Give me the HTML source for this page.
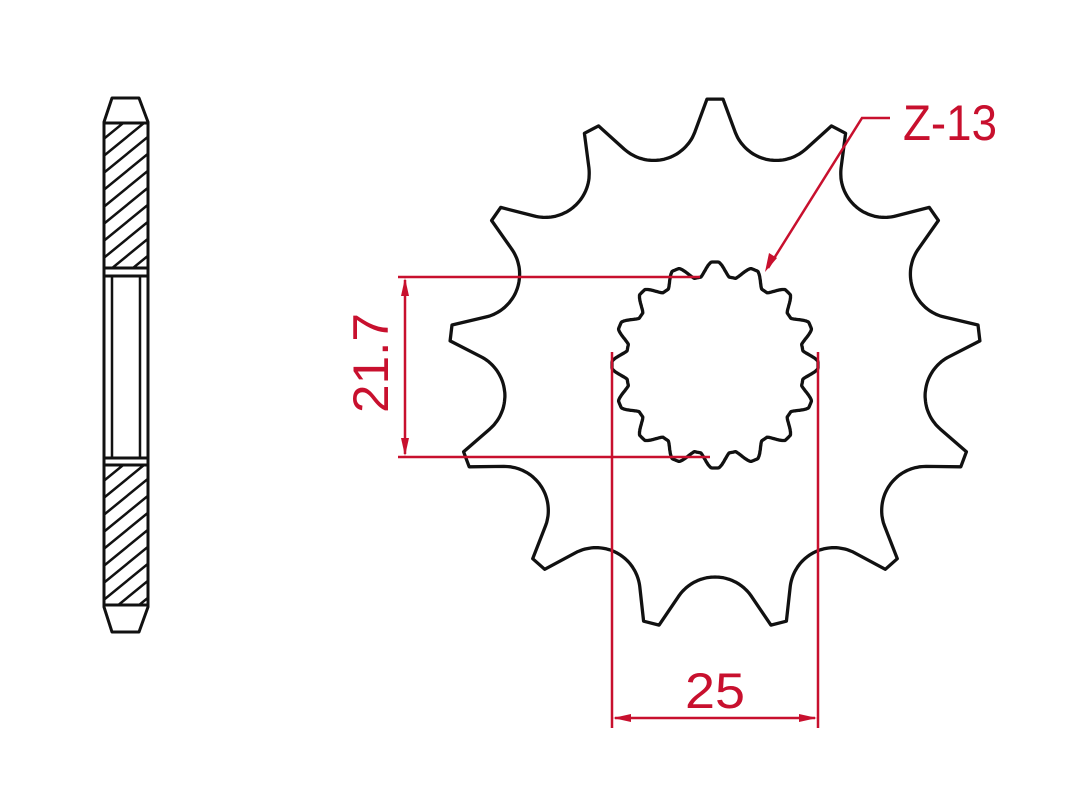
<!DOCTYPE html>
<html><head><meta charset="utf-8"><style>
html,body{margin:0;padding:0;background:#fff;}
svg{display:block;}
</style></head><body>
<svg id="s" width="1073" height="800" viewBox="0 0 1073 800" xmlns="http://www.w3.org/2000/svg">
<defs>
<clipPath id="c1"><rect x="105" y="123" width="43" height="145"/></clipPath>
<clipPath id="c2"><rect x="105" y="465" width="43" height="140"/></clipPath>
</defs>
<g fill="none" stroke="#111" stroke-width="3" stroke-linejoin="round">
<path d="M112,98 L139,98 L148,122 L148,607 L139,632 L112,632 L104,607 L104,122 Z"/>
<line x1="104" y1="123" x2="148" y2="123"/>
<line x1="104" y1="268" x2="148" y2="268"/>
<line x1="104" y1="276" x2="148" y2="276"/>
<line x1="104" y1="458" x2="148" y2="458"/>
<line x1="104" y1="465" x2="148" y2="465"/>
<line x1="104" y1="605" x2="148" y2="605"/>
<rect x="112" y="276" width="28" height="182" stroke-width="2.5"/>
<g clip-path="url(#c1)" stroke-width="2.5" id="h1"></g>
<g clip-path="url(#c2)" stroke-width="2.5" id="h2"></g>
<path id="sp" d="" stroke-width="3.3"/>
<path id="spl" d="" stroke-width="3.3"/>
</g>
<g stroke="#c8102e" stroke-width="2.5" fill="none">
<line x1="398" y1="277" x2="700" y2="277"/>
<line x1="398" y1="457" x2="710" y2="457"/>
<line x1="405" y1="280" x2="405" y2="454"/>
<line x1="612" y1="352" x2="612" y2="728"/>
<line x1="818" y1="352" x2="818" y2="728"/>
<line x1="615" y1="718" x2="815" y2="718"/>
<polyline points="890,118 862,118 768,268"/>
</g>
<g fill="#c8102e">
<polygon points="405,278 401,296 409,296"/>
<polygon points="405,456 401,438 409,438"/>
<polygon points="613,718 631,714 631,722"/>
<polygon points="817,718 799,714 799,722"/>
<polygon points="765,272 769,253 777,258"/>
</g>
<g fill="#c8102e" font-family="'Liberation Sans',sans-serif" font-size="50">
<text x="903" y="140" textLength="94" lengthAdjust="spacingAndGlyphs">Z-13</text>
<text x="685" y="708" textLength="60" lengthAdjust="spacingAndGlyphs">25</text>
<text transform="translate(388,413) rotate(-90)" x="0" y="0" textLength="100" lengthAdjust="spacingAndGlyphs">21.7</text>
</g>
</svg>
<script>
(function(){
var cx=715,cy=365;
function hatch(id,y0,y1){var g=document.getElementById(id),s='';
for(var y=y0-60;y<y1+60;y+=17){s+='<line x1="100" y1="'+(y+45)+'" x2="155" y2="'+y+'"/>';}
g.innerHTML=s;}
hatch('h1',123,268);hatch('h2',465,605);
var N=13,p=2*Math.PI/N,Rt=266,hw=8/266,rho=44,Rc=212+44,pts=[];
function P(r,a){return [cx+r*Math.cos(a),cy+r*Math.sin(a)];}
var dA=p/2-hw;
var tx=-Rt*Math.sin(dA), ty=Rt*Math.cos(dA)-Rc;
var d=Math.sqrt(tx*tx+ty*ty), phT=Math.atan2(ty,tx), al=Math.acos(rho/d);
var b1=phT+al, b2=3*Math.PI-b1;
for(var k=0;k<N;k++){
 var a0=-Math.PI/2+k*p;
 pts.push(P(Rt,a0-hw));pts.push(P(Rt,a0+hw));
 var av=a0+p/2,C=P(Rc,av);
 var u=[Math.cos(av),Math.sin(av)],t=[-Math.sin(av),Math.cos(av)];
 for(var i=0;i<=40;i++){
  var b=b1+(b2-b1)*i/40;
  var lx=Math.cos(b),ly=Math.sin(b);
  pts.push([C[0]+rho*(lx*t[0]+ly*u[0]),C[1]+rho*(lx*t[1]+ly*u[1])]);
 }
}
document.getElementById('sp').setAttribute('d','M'+pts.map(function(q){return q[0].toFixed(1)+','+q[1].toFixed(1)}).join(' L')+' Z');
var q=[];
for(var i=0;i<=960;i++){var a=i/960*2*Math.PI-Math.PI/2;
 var c=Math.cos(16*(a+Math.PI/2));
 var v=Math.max(-1,Math.min(1,1.2*c));
 var r=96+7*v;q.push(P(r,a));}
document.getElementById('spl').setAttribute('d','M'+q.map(function(z){return z[0].toFixed(1)+','+z[1].toFixed(1)}).join(' L')+' Z');
})();
</script>
</body></html>
